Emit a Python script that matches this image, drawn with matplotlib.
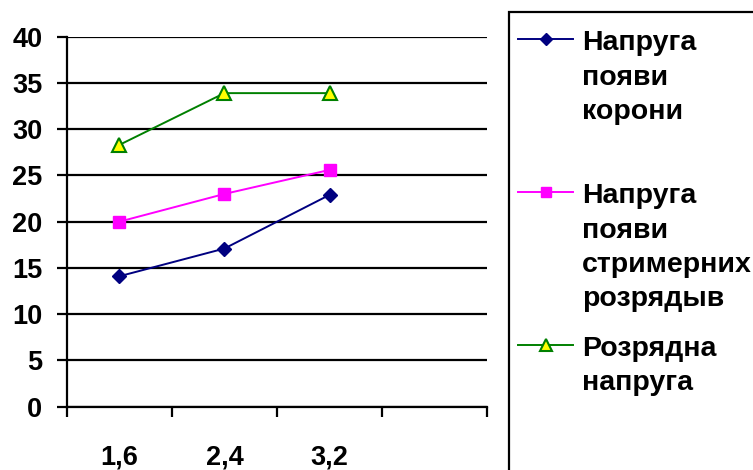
import matplotlib
matplotlib.use("Agg")
from matplotlib import pyplot as plt
from matplotlib.lines import Line2D
from matplotlib.patches import Rectangle

# gap widths (mm); 4th slot on the axis is empty
categories = ("1,6", "2,4", "3,2", "")
corona = (14.1, 17.1, 22.9)
streamer = (20.0, 23.0, 25.6)
breakdown = (28.3, 33.9, 33.9)

corona_label = ("Напруга", "появи", "корони")
streamer_label = ("Напруга", "появи", "стримерних", "розрядыв")
breakdown_label = ("Розрядна", "напруга")

plt.rcParams["font.family"] = ["Liberation Sans", "DejaVu Sans"]
plt.rcParams["font.weight"] = "bold"

W, H = 753, 470
fig = plt.figure(figsize=(W / 100, H / 100), dpi=100)
ax = fig.add_axes((66.7 / W, 1 - 406.7 / H, (487.3 - 66.7) / W, 370 / H))

centers = [i + 0.5 for i in range(len(corona))]
styles = [
    (corona, dict(color="#000080", marker="D", markersize=7.5,
                  markerfacecolor="#000080", markeredgecolor="#000080")),
    (streamer, dict(color="#FF00FF", marker="s", markersize=8,
                    markerfacecolor="#FF00FF", markeredgecolor="#FF00FF")),
    (breakdown, dict(color="#008000", marker="^", markersize=10,
                     markerfacecolor="#FFFF00", markeredgecolor="#008000",
                     markeredgewidth=1.5)),
]
lines = []
for vals, st in styles:
    ln, = ax.plot(centers, vals, linewidth=1.4, clip_on=False, zorder=3, **st)
    lines.append(ln)

ax.set_xlim(0, len(categories))
ax.set_ylim(0, 40)
ax.set_yticks(range(0, 41, 5))
ax.set_xticks(range(0, len(categories) + 1))
ax.set_xticklabels([])
ax.set_xticks([i + 0.5 for i in range(len(categories))], minor=True)
ax.set_xticklabels(categories, minor=True)

ax.grid(axis="y", color="black", linewidth=1.6)
ax.set_axisbelow(True)
for s in ("top", "right"):
    ax.spines[s].set_visible(False)
for s in ("left", "bottom"):
    ax.spines[s].set_linewidth(1.6)

ax.tick_params(axis="y", length=7, width=1.6, pad=10.5, labelsize=19.5)
ax.tick_params(axis="x", which="major", length=7, width=1.6)
ax.tick_params(axis="x", which="minor", length=0, pad=27, labelsize=19.5)
for t in ax.get_xticklabels(minor=True):
    t.set_verticalalignment("top")

# legend box, running off the right and bottom edges like the original
fig.add_artist(Rectangle((509 / W, -0.05), 0.5, 1.05 - 12 / H,
                         transform=fig.transFigure, fill=False,
                         edgecolor="black", linewidth=1.6))

first_baselines = (50, 203, 356)
step = 34.5
for ln, label, base in zip(lines, (corona_label, streamer_label, breakdown_label), first_baselines):
    hy = 1 - (base - 11) / H
    fig.add_artist(Line2D([518 / W, 573 / W], [hy, hy], transform=fig.transFigure,
                          color=ln.get_color(), linewidth=1.4, marker=None))
    fig.add_artist(Line2D([545.5 / W], [hy], transform=fig.transFigure,
                          linestyle="none", marker=ln.get_marker(),
                          markersize=ln.get_markersize() * 0.85,
                          markerfacecolor=ln.get_markerfacecolor(),
                          markeredgecolor=ln.get_markeredgecolor(),
                          markeredgewidth=ln.get_markeredgewidth()))
    for k, word in enumerate(label):
        fig.text(582 / W, 1 - (base + k * step) / H, word, fontsize=20.5,
                 fontweight="bold", va="baseline", ha="left")

fig.savefig("out.png", dpi=100)
